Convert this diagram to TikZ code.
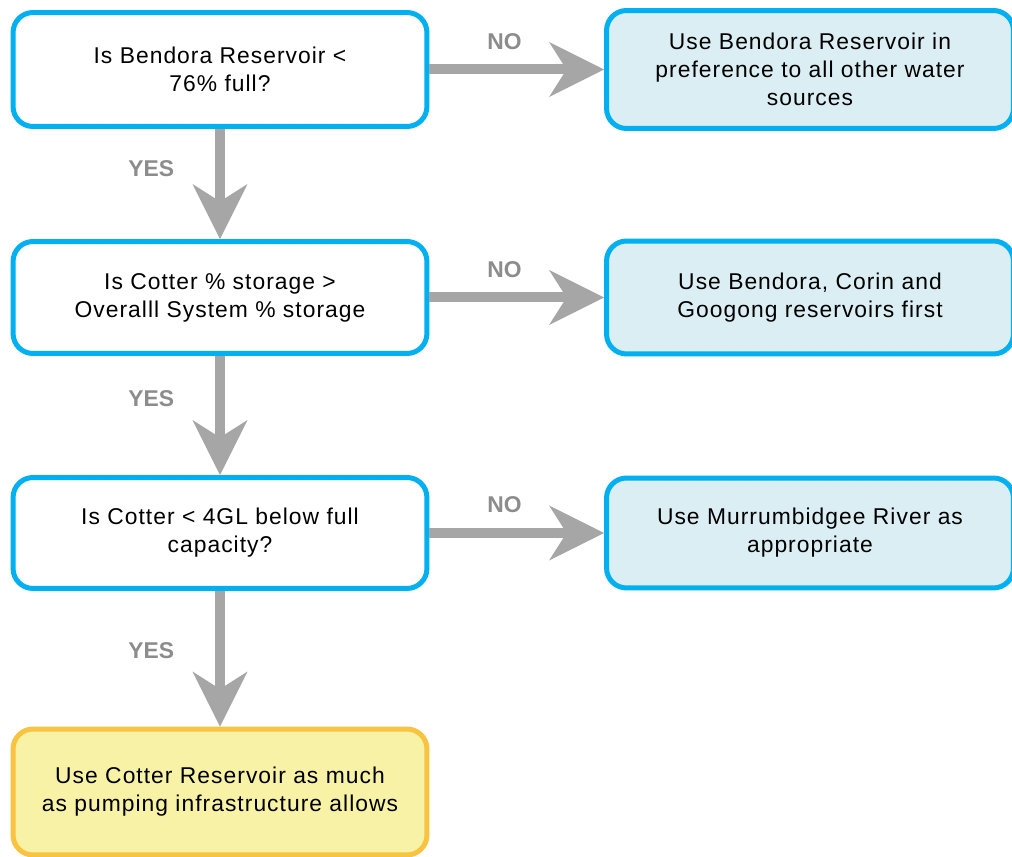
\documentclass[tikz,border=0pt]{standalone}
\usepackage{fontspec}
\setmainfont{Liberation Sans}
\usetikzlibrary{arrows.meta}
\definecolor{boxblue}{HTML}{00B0F0}
\definecolor{fillblue}{HTML}{DAEEF3}
\definecolor{boxamber}{HTML}{F9C342}
\definecolor{fillyellow}{HTML}{F8F2A6}
\definecolor{arrowgrey}{HTML}{A6A6A6}
\definecolor{labelgrey}{HTML}{8C8C8C}

\begin{document}
\begin{tikzpicture}[x=0.02cm, y=-0.02cm,
    question/.style={rectangle, rounded corners=0.4cm, draw=boxblue, line width=0.1cm, fill=white,
        minimum width=8.28cm, align=center,
        font=\fontsize{13}{16}\selectfont\addfontfeature{LetterSpace=4.5}},
    answer/.style={question, fill=fillblue, minimum width=8.14cm},
    outcome/.style={question, draw=boxamber, fill=fillyellow},
    flow/.style={draw=arrowgrey, line width=0.2cm,
        -{Stealth[length=1.1cm, width=1.1cm, inset=0.35cm, line width=0pt, fill=arrowgrey]}},
    choice/.style={font=\fontsize{13}{16}\selectfont\bfseries, text=labelgrey, inner sep=0pt}]
    \useasboundingbox (0,0) rectangle (1012,857);

    \node[question, minimum height=2.28cm] (q1) at (220, 69.5) {Is Bendora Reservoir <\\76\% full?};
    \node[question, minimum height=2.24cm] (q2) at (220, 297.5) {Is Cotter \% storage >\\Overalll System \% storage};
    \node[question, minimum height=2.22cm] (q3) at (220, 533) {Is Cotter < 4GL below full\\capacity?};
    \node[outcome, minimum height=2.52cm] (final) at (220, 792) {Use Cotter Reservoir as much\\as pumping infrastructure allows};

    \node[answer, minimum height=2.36cm] (use1) at (810, 69.5) {Use Bendora Reservoir in\\preference to all other water\\sources};
    \node[answer, minimum height=2.26cm] (use2) at (810, 297.5) {Use Bendora, Corin and\\Googong reservoirs first};
    \node[answer, minimum height=2.2cm] (use3) at (810, 533) {Use Murrumbidgee River as\\appropriate};

    \draw[flow] (q1.east) -- node[choice, pos=0.43, above=0.3cm] {NO} (q1.east -| use1.west);
    \draw[flow] (q2.east) -- node[choice, pos=0.43, above=0.3cm] {NO} (q2.east -| use2.west);
    \draw[flow] (q3.east) -- node[choice, pos=0.43, above=0.3cm] {NO} (q3.east -| use3.west);

    \draw[flow] (q1.south) -- node[choice, pos=0.36, left=0.82cm] {YES} (q2.north);
    \draw[flow] (q2.south) -- node[choice, pos=0.36, left=0.82cm] {YES} (q3.north);
    \draw[flow] (q3.south) -- node[choice, pos=0.44, left=0.82cm] {YES} (final.north);
\end{tikzpicture}
\end{document}
